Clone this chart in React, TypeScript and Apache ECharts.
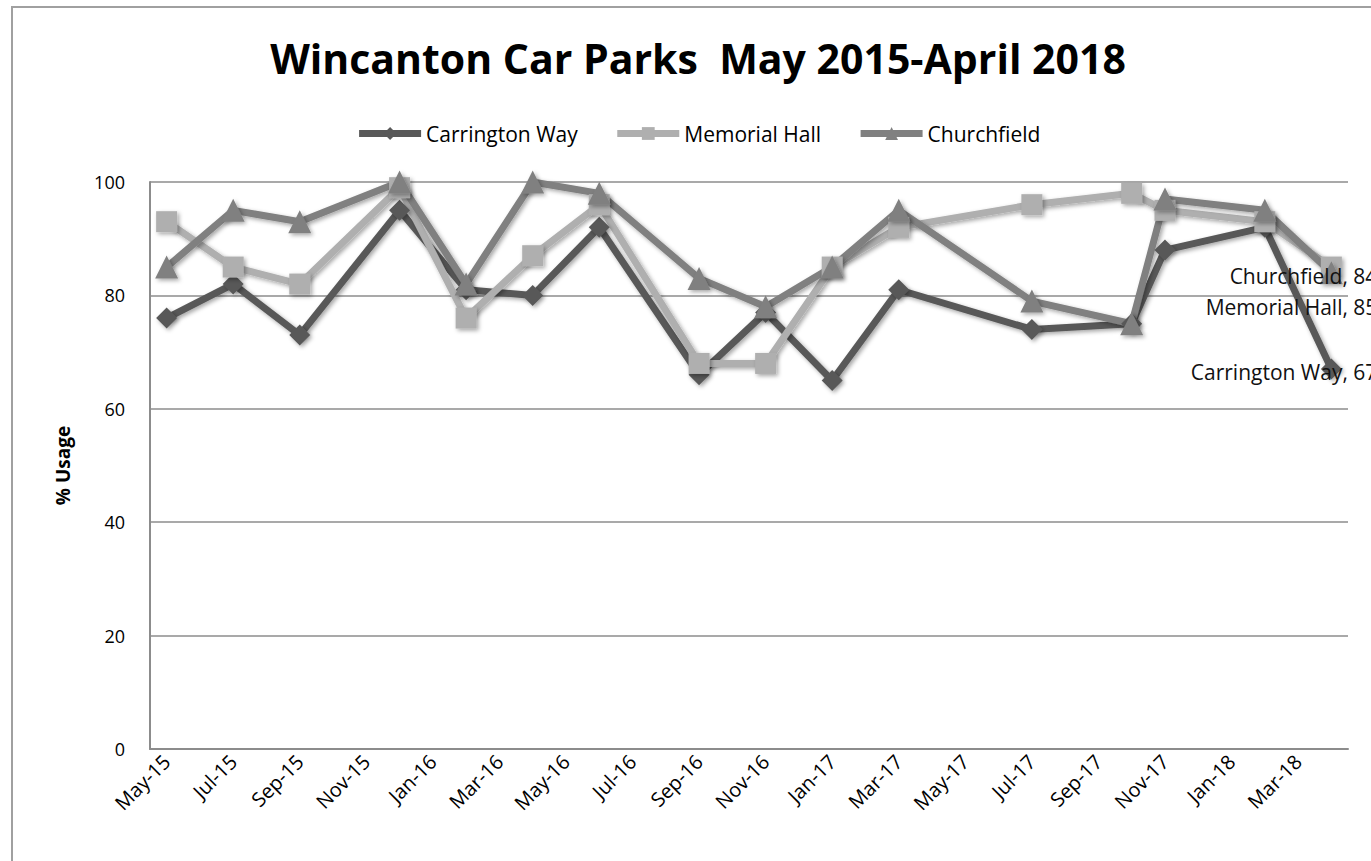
import React, { useEffect, useRef } from "react";
import * as echarts from "echarts";

const months = [
  "May-15", "Jun-15", "Jul-15", "Aug-15", "Sep-15", "Oct-15", "Nov-15", "Dec-15",
  "Jan-16", "Feb-16", "Mar-16", "Apr-16", "May-16", "Jun-16", "Jul-16", "Aug-16",
  "Sep-16", "Oct-16", "Nov-16", "Dec-16", "Jan-17", "Feb-17", "Mar-17", "Apr-17",
  "May-17", "Jun-17", "Jul-17", "Aug-17", "Sep-17", "Oct-17", "Nov-17", "Dec-17",
  "Jan-18", "Feb-18", "Mar-18", "Apr-18",
];

const surveyMonths = [
  "May-15", "Jul-15", "Sep-15", "Dec-15", "Feb-16", "Apr-16", "Jun-16", "Sep-16",
  "Nov-16", "Jan-17", "Mar-17", "Jul-17", "Oct-17", "Nov-17", "Feb-18", "Apr-18",
];

const carringtonWay = [76, 82, 73, 95, 81, 80, 92, 66, 77, 65, 81, 74, 75, 88, 92, 67];
const memorialHall = [93, 85, 82, 99, 76, 87, 96, 68, 68, 85, 92, 96, 98, 95, 93, 85];
const churchfield = [85, 95, 93, 100, 82, 100, 98, 83, 78, 85, 95, 79, 75, 97, 95, 84];

const yTicks = [0, 20, 40, 60, 80, 100];

const FONT = "'Open Sans', sans-serif";

function buildSeries(name: string, values: number[], color: string, symbol: string, symbolSize: number, labelOffsetY: number) {
  return {
    name,
    type: "line",
    symbol,
    symbolSize,
    showAllSymbol: true,
    clip: false,
    color,
    lineStyle: {
      width: 7,
      color,
      shadowBlur: 4,
      shadowColor: "rgba(0,0,0,0.35)",
      shadowOffsetX: 2,
      shadowOffsetY: 2,
    },
    itemStyle: {
      color,
      shadowBlur: 4,
      shadowColor: "rgba(0,0,0,0.35)",
      shadowOffsetX: 2,
      shadowOffsetY: 2,
    },
    data: values.map((v, i) => {
      const last = i === values.length - 1;
      const item: any = { value: [surveyMonths[i], v] };
      if (last) {
        item.label = {
          show: true,
          position: "inside",
          align: "right",
          verticalAlign: "middle",
          offset: [46, labelOffsetY],
          formatter: () => `${name}, ${v}`,
          color: "#111",
          fontSize: 21,
          fontFamily: FONT,
        };
      }
      return item;
    }),
  };
}

export default function App() {
  const ref = useRef<HTMLDivElement>(null);

  useEffect(() => {
    document.body.style.margin = "0";
    if (!ref.current) return;
    const chart = echarts.init(ref.current, null, { renderer: "svg" });
    chart.setOption({
      animation: false,
      backgroundColor: "#ffffff",
      title: {
        text: "Wincanton Car Parks  May 2015-April 2018",
        left: "center",
        top: 32,
        textStyle: { fontFamily: FONT, fontWeight: "bold", fontSize: 41, color: "#000" },
      },
      legend: {
        top: 118,
        left: "center",
        itemWidth: 62,
        itemHeight: 16,
        itemGap: 36,
        lineStyle: { width: 7 },
        textStyle: { fontFamily: FONT, fontSize: 21, color: "#000" },
        data: ["Carrington Way", "Memorial Hall", "Churchfield"],
      },
      grid: { left: 150, top: 182, right: 48, bottom: 112, containLabel: false },
      xAxis: {
        type: "category",
        data: months,
        boundaryGap: true,
        axisLine: { show: true, lineStyle: { color: "#8c8c8c", width: 2 } },
        axisTick: { show: false },
        axisLabel: {
          interval: 1,
          rotate: 45,
          margin: 9,
          fontFamily: FONT,
          fontSize: 20,
          color: "#000",
        },
        splitLine: { show: false },
      },
      yAxis: {
        type: "value",
        min: yTicks[0],
        max: yTicks[yTicks.length - 1],
        interval: 20,
        name: "% Usage",
        nameLocation: "middle",
        nameGap: 78,
        nameRotate: 90,
        nameTextStyle: { fontFamily: FONT, fontWeight: "bold", fontSize: 19, color: "#000" },
        axisLine: { show: true, lineStyle: { color: "#8c8c8c", width: 2 } },
        axisTick: { show: false },
        axisLabel: { fontFamily: FONT, fontSize: 18, color: "#000", margin: 25 },
        splitLine: { show: true, lineStyle: { color: "#8c8c8c", width: 1.5 } },
      },
      graphic: [
        {
          type: "rect",
          shape: { x: 12, y: 7, width: 1420, height: 900 },
          style: { fill: "none", stroke: "#a0a0a0", lineWidth: 2 },
          silent: true,
          z: -1,
        },
      ],
      series: [
        buildSeries("Carrington Way", carringtonWay, "#595959", "diamond", 21, 3),
        buildSeries("Memorial Hall", memorialHall, "#afafaf", "rect", 21, 40),
        buildSeries("Churchfield", churchfield, "#808080", "triangle", 23, 3),
      ],
    });
    return () => chart.dispose();
  }, []);

  return (
    <div style={{ width: 1371, height: 861, overflow: "hidden", position: "relative" }}>
      <div ref={ref} style={{ width: 1396, height: 861 }} />
    </div>
  );
}
